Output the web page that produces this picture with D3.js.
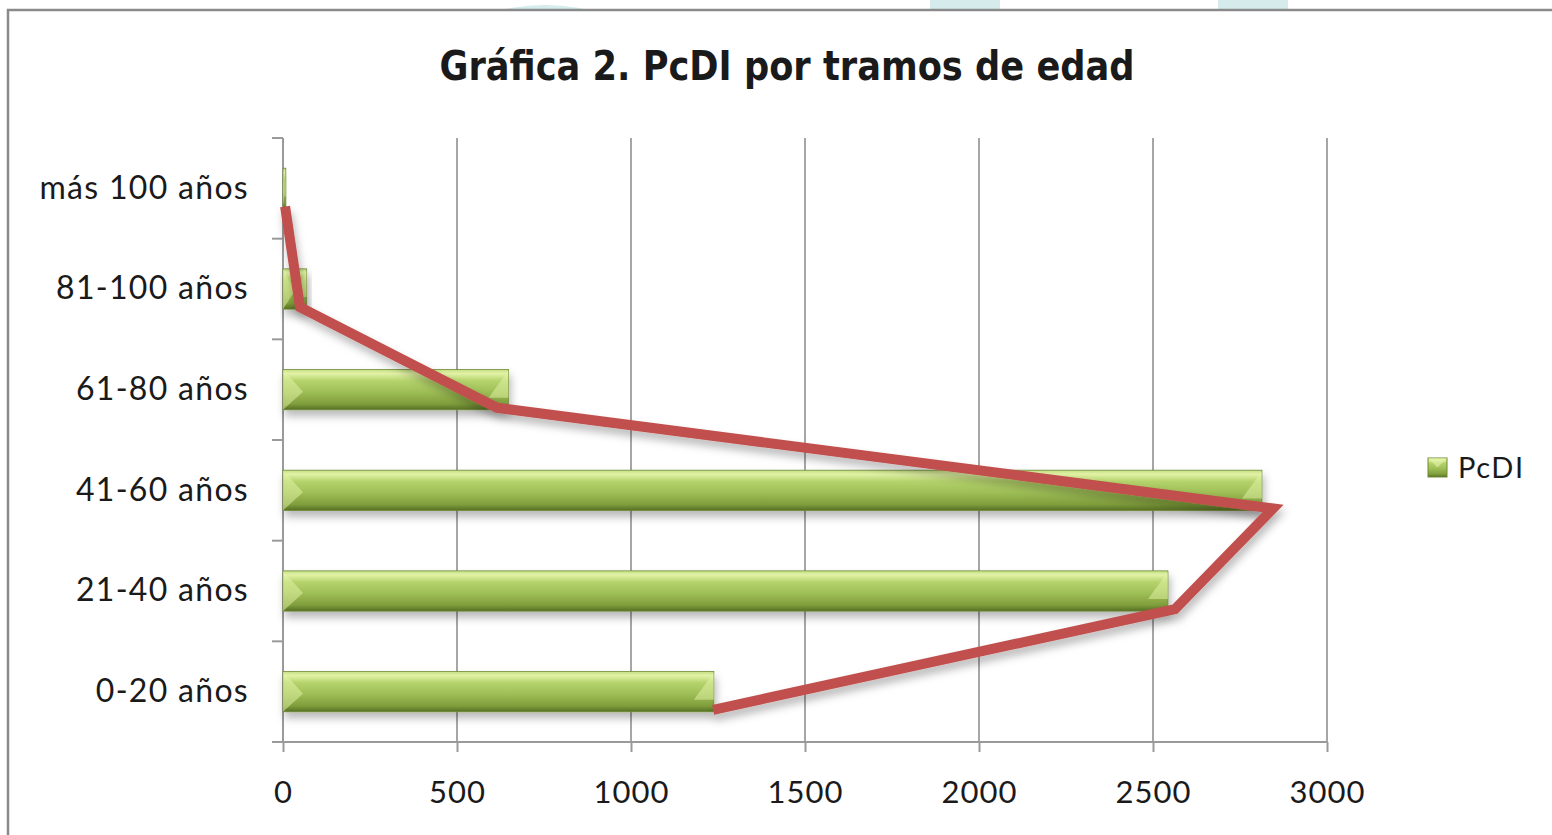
<!DOCTYPE html>
<html>
<head>
    <meta charset="utf-8">
    <style>
        body { margin: 0; background: #fff; }
        .title { font-family: "DejaVu Sans", sans-serif; font-weight: bold; fill: #1a1a1a; }
        .axis text { font-family: Lato, "Open Sans", sans-serif; fill: #1a1a1a; }
        .axis path, .axis line { stroke: #9a9a9a; stroke-width: 2; }
        .grid line { stroke: #a6a6a6; stroke-width: 2; }
    </style>
    <script src="https://d3js.org/d3.v7.min.js"></script>
    <title>Gráfica 2. PcDI por tramos de edad</title>
</head>
<body>
    <svg width="1552" height="835"></svg>
    <script>
        // data
        var categories = ["0-20 años", "21-40 años", "41-60 años", "61-80 años", "81-100 años", "más 100 años"];
        var barValues = [1238, 2543, 2813, 648, 68, 8];
        var lineValues = [1236, 2563, 2845, 615, 49, 6];
        var xTicks = [0, 500, 1000, 1500, 2000, 2500, 3000];
        var seriesName = "PcDI";

        var svg = d3.select("svg");
        var plotLeft = 283, plotRight = 1327, plotTop = 138, plotBottom = 742;

        var x = d3.scaleLinear().domain([0, 3000]).range([plotLeft, plotRight]);
        // first category at the bottom
        var y = d3.scaleBand().domain(categories.slice().reverse()).range([plotTop, plotBottom])
            .paddingInner(0.6).paddingOuter(0.3);

        var defs = svg.append("defs");
        var grad = defs.append("linearGradient").attr("id", "barGrad")
            .attr("x1", 0).attr("y1", 0).attr("x2", 0).attr("y2", 1);
        [[0, "#c4df84"], [0.1, "#e2f2a6"], [0.28, "#b5d36c"], [0.55, "#9fbf57"], [0.85, "#809e3c"], [1, "#566f24"]]
            .forEach(function (s) { grad.append("stop").attr("offset", s[0]).attr("stop-color", s[1]); });

        var shadow = defs.append("filter").attr("id", "shadow")
            .attr("x", "-10%").attr("y", "-30%").attr("width", "130%").attr("height", "180%");
        shadow.append("feDropShadow").attr("dx", 2).attr("dy", 6).attr("stdDeviation", 4)
            .attr("flood-color", "#000").attr("flood-opacity", 0.28);

        // faint watermark shapes above the frame
        svg.append("ellipse").attr("cx", 545).attr("cy", 40).attr("rx", 85).attr("ry", 35).attr("fill", "#d6ecec");
        svg.append("rect").attr("x", 930).attr("y", 0).attr("width", 70).attr("height", 12).attr("fill", "#d6ecec");
        svg.append("rect").attr("x", 1218).attr("y", 0).attr("width", 70).attr("height", 12).attr("fill", "#d6ecec");

        // chart frame
        svg.append("rect").attr("x", 8).attr("y", 10).attr("width", 1600).attr("height", 900)
            .attr("fill", "#fff").attr("stroke", "#8a8a8a").attr("stroke-width", 2.5);

        svg.append("text").attr("class", "title")
            .attr("x", 787).attr("y", 80).attr("text-anchor", "middle")
            .attr("font-size", 40).attr("textLength", 695).attr("lengthAdjust", "spacingAndGlyphs")
            .text("Gráfica 2. PcDI por tramos de edad");

        // vertical gridlines
        svg.append("g").attr("class", "grid")
            .selectAll("line").data(xTicks.slice(1)).enter().append("line")
            .attr("x1", function (d) { return x(d); }).attr("x2", function (d) { return x(d); })
            .attr("y1", plotTop).attr("y2", plotBottom);

        // x axis
        var xAxis = svg.append("g").attr("class", "axis")
            .attr("transform", "translate(0," + plotBottom + ")")
            .call(d3.axisBottom(x).tickValues(xTicks).tickFormat(d3.format("d"))
                .tickSize(10).tickSizeOuter(0).tickPadding(29));
        xAxis.select(".domain").attr("d", "M" + (plotLeft - 11) + ",0H" + plotRight);
        xAxis.selectAll("text").attr("font-size", 31).attr("letter-spacing", 1);

        // y axis, ticks between categories
        var yAxis = svg.append("g").attr("class", "axis")
            .attr("transform", "translate(" + plotLeft + ",0)")
            .call(d3.axisLeft(y).tickSize(0).tickPadding(34));
        yAxis.select(".domain").attr("d", "M0," + plotTop + "V" + plotBottom);
        yAxis.selectAll("text").attr("font-size", 32).attr("letter-spacing", 1.3);
        var step = y.step();
        yAxis.selectAll(".sep").data(d3.range(categories.length)).enter().append("line")
            .attr("class", "sep")
            .attr("x1", -11).attr("x2", 0)
            .attr("y1", function (i) { return plotTop + i * step; })
            .attr("y2", function (i) { return plotTop + i * step; })
            .attr("stroke", "#9a9a9a").attr("stroke-width", 2);

        // bars
        var bars = svg.append("g").selectAll("g.bar").data(categories).enter().append("g").attr("class", "bar");
        bars.append("rect")
            .attr("x", x(0))
            .attr("y", function (d) { return y(d); })
            .attr("width", function (d, i) { return x(barValues[i]) - x(0); })
            .attr("height", y.bandwidth())
            .attr("fill", "url(#barGrad)")
            .attr("stroke", "#6f8a35").attr("stroke-width", 0.8)
            .attr("filter", "url(#shadow)");
        // bevel at the bar ends
        bars.append("path")
            .attr("d", function (d, i) {
                var x0 = x(0), x1 = x(barValues[i]), y0 = y(d), h = y.bandwidth(), b = Math.min(20, (x1 - x0) / 2);
                return "M" + x0 + "," + y0 + "L" + (x0 + b) + "," + (y0 + h * 0.55) + "L" + x0 + "," + (y0 + h) + "Z" +
                    "M" + x1 + "," + (y0 + 1) + "L" + (x1 - b) + "," + (y0 + h * 0.7) + "L" + x1 + "," + (y0 + h * 0.7) + "Z";
            })
            .attr("fill", "#e4f4a8").attr("opacity", 0.5);

        // red line
        var line = d3.line()
            .x(function (d) { return x(d); })
            .y(function (d, i) { return y(categories[i]) + y.bandwidth() * 0.95; });
        svg.append("path")
            .attr("d", line(lineValues))
            .attr("fill", "none")
            .attr("stroke", "#c0504d")
            .attr("stroke-width", 10)
            .attr("stroke-linejoin", "miter")
            .attr("filter", "url(#shadow)");

        // legend
        var lg = svg.append("g").attr("transform", "translate(1428,458)");
        lg.append("rect").attr("width", 19).attr("height", 19).attr("fill", "url(#barGrad)").attr("stroke", "#6f8a35");
        lg.append("path").attr("d", "M0,0L9.5,9.5L19,0Z").attr("fill", "#e4f4a8").attr("opacity", 0.6);
        lg.append("text").attr("x", 30).attr("y", 20)
            .attr("font-family", "Lato, 'Open Sans', sans-serif").attr("font-size", 29).attr("letter-spacing", 1.5)
            .attr("fill", "#1a1a1a")
            .text(seriesName);
    </script>
</body>
</html>
